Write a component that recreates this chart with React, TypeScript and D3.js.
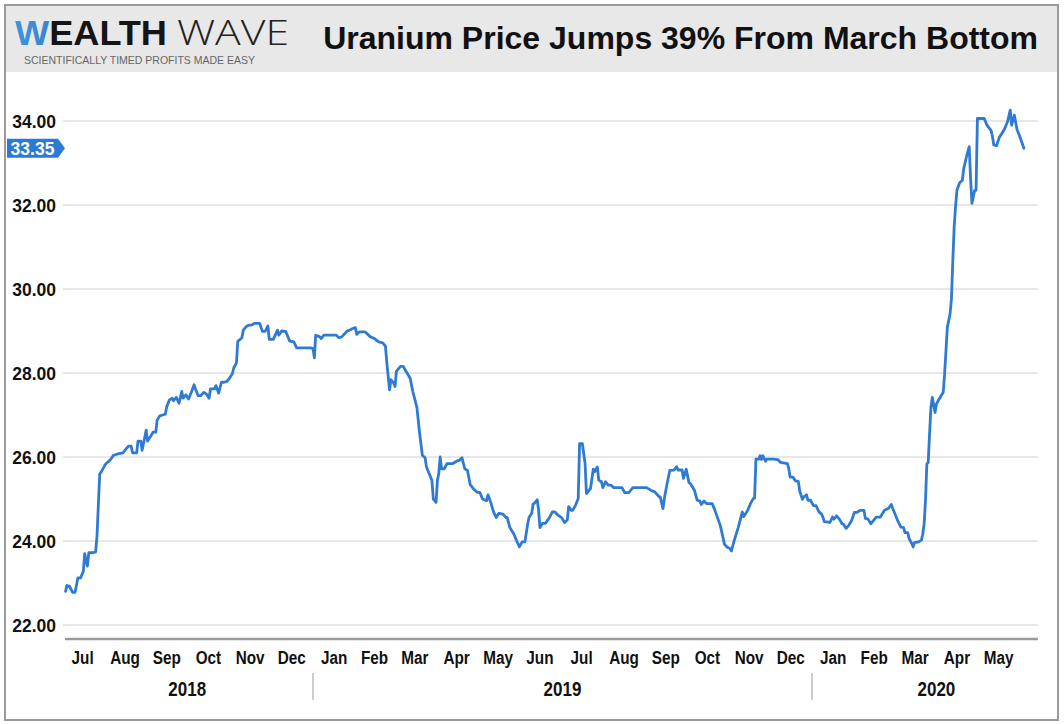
import React from "react";
import * as d3 from "d3";

// ---- data (month-day, price USD/lb) ----
const prices2018: [string, number][] = [
  ["07-04",22.80],["07-05",22.94],["07-07",22.92],["07-09",22.78],["07-11",22.78],["07-13",23.12],["07-15",23.12],["07-17",23.28],["07-18",23.70],["07-20",23.40],["07-21",23.72],["07-24",23.72],["07-26",23.74],["07-27",24.12],["07-29",25.60],["07-30",25.64],
  ["08-01",25.76],["08-02",25.82],["08-04",25.88],["08-06",25.94],["08-08",26.04],["08-10",26.06],["08-12",26.08],["08-15",26.10],["08-17",26.18],["08-19",26.26],["08-21",26.26],["08-22",26.10],["08-25",26.10],["08-26",26.38],["08-28",26.38],["08-29",26.16],
  ["09-01",26.64],["09-02",26.38],["09-04",26.48],["09-06",26.59],["09-08",26.59],["09-09",26.88],["09-11",26.98],["09-13",27.00],["09-15",27.02],["09-16",27.20],["09-18",27.36],["09-20",27.40],["09-21",27.34],["09-23",27.42],["09-25",27.28],["09-27",27.56],["09-28",27.40],["09-30",27.48],
  ["10-02",27.38],["10-04",27.54],["10-06",27.72],["10-07",27.62],["10-09",27.46],["10-11",27.46],["10-13",27.54],["10-15",27.50],["10-17",27.40],["10-18",27.62],["10-21",27.62],["10-22",27.70],["10-24",27.52],["10-26",27.78],["10-28",27.78],["10-30",27.80],
  ["11-01",27.88],["11-03",27.98],["11-04",28.12],["11-06",28.24],["11-07",28.76],["11-08",28.78],["11-10",28.84],["11-11",29.02],["11-13",29.10],["11-15",29.14],["11-17",29.14],["11-19",29.18],["11-23",29.18],["11-25",28.99],["11-27",28.99],["11-29",29.12],["11-30",28.80],
  ["12-03",28.80],["12-06",29.02],["12-07",28.90],["12-09",29.00],["12-12",28.99],["12-15",28.76],["12-18",28.74],["12-20",28.60],["12-30",28.60],
];

const prices2019: [string, number][] = [
  ["01-01",28.58],["01-02",28.36],["01-03",28.90],["01-06",28.86],["01-07",28.82],["01-09",28.90],["01-18",28.90],["01-20",28.84],["01-22",28.86],["01-26",29.00],["01-28",29.02],["01-30",29.06],
  ["02-01",29.08],["02-02",28.92],["02-04",28.98],["02-08",28.98],["02-12",28.86],["02-15",28.82],["02-18",28.74],["02-21",28.72],["02-23",28.64],["02-24",28.24],["02-26",27.60],["02-27",27.84],
  ["03-01",27.76],["03-02",27.68],["03-03",28.04],["03-04",28.08],["03-06",28.16],["03-08",28.16],["03-10",28.04],["03-13",27.88],["03-15",27.56],["03-18",27.18],["03-20",26.56],["03-22",26.04],["03-24",25.98],["03-25",25.76],["03-27",25.60],["03-29",25.44],["03-30",25.00],
  ["04-01",24.92],["04-02",25.44],["04-03",25.60],["04-04",26.00],["04-05",25.72],["04-07",25.72],["04-09",25.84],["04-13",25.84],["04-16",25.90],["04-18",25.92],["04-20",25.98],["04-22",25.72],["04-24",25.68],["04-26",25.34],["04-29",25.22],
  ["05-01",25.16],["05-03",25.16],["05-05",25.00],["05-08",24.96],["05-09",25.10],["05-11",24.92],["05-13",24.70],["05-15",24.56],["05-17",24.66],["05-20",24.64],["05-22",24.56],["05-23",24.56],["05-25",24.32],["05-28",24.16],["05-30",24.00],
  ["06-01",23.86],["06-03",23.98],["06-05",23.98],["06-07",24.40],["06-08",24.56],["06-10",24.66],["06-11",24.88],["06-12",24.90],["06-14",24.98],["06-15",24.74],["06-16",24.32],["06-18",24.42],["06-20",24.42],["06-23",24.56],["06-25",24.69],["06-27",24.69],["06-29",24.62],
  ["07-02",24.55],["07-04",24.44],["07-06",24.50],["07-07",24.82],["07-09",24.73],["07-10",24.73],["07-12",24.85],["07-14",25.01],["07-15",26.32],["07-17",26.32],["07-19",25.85],["07-20",25.13],["07-23",25.25],["07-25",25.71],["07-26",25.65],["07-28",25.76],["07-29",25.45],["07-31",25.41],
  ["08-01",25.27],["08-03",25.41],["08-05",25.33],["08-07",25.33],["08-09",25.27],["08-15",25.27],["08-17",25.15],["08-20",25.15],["08-23",25.27],["08-28",25.27],
  ["09-02",25.27],["09-05",25.21],["09-08",25.17],["09-11",25.06],["09-12",25.05],["09-14",24.77],["09-15",25.01],["09-17",25.37],["09-19",25.68],["09-22",25.69],["09-24",25.77],["09-25",25.69],["09-28",25.69],["09-29",25.49],
  ["10-01",25.71],["10-03",25.39],["10-04",25.37],["10-07",25.21],["10-09",24.97],["10-11",24.95],["10-12",24.87],["10-14",24.95],["10-16",24.89],["10-20",24.89],["10-22",24.73],["10-26",24.36],["10-29",23.92],["10-31",23.85],
  ["11-02",23.82],["11-03",23.76],["11-05",24.00],["11-08",24.32],["11-11",24.69],["11-12",24.58],["11-15",24.73],["11-17",24.89],["11-19",25.01],["11-20",25.02],["11-21",25.95],["11-23",25.95],["11-24",26.03],["11-25",25.94],["11-26",26.03],["11-28",25.90],["11-29",25.95],
  ["12-04",25.95],["12-07",25.94],["12-09",25.87],["12-14",25.84],["12-15",25.73],["12-16",25.52],["12-18",25.52],["12-20",25.43],["12-22",25.42],["12-23",25.19],["12-25",24.99],["12-26",25.05],["12-28",25.10],["12-29",24.97],["12-31",24.97],
];

const prices2020: [string, number][] = [
  ["01-02",24.84],["01-04",24.84],["01-06",24.70],["01-08",24.64],["01-09",24.57],["01-10",24.46],["01-13",24.45],["01-14",24.44],["01-16",24.57],["01-17",24.52],["01-19",24.60],["01-21",24.52],["01-23",24.41],["01-24",24.40],["01-26",24.30],["01-28",24.38],["01-30",24.49],
  ["02-01",24.68],["02-03",24.68],["02-05",24.73],["02-08",24.73],["02-09",24.54],["02-11",24.52],["02-13",24.41],["02-15",24.49],["02-17",24.57],["02-20",24.57],["02-23",24.73],["02-26",24.78],["02-28",24.87],["02-29",24.78],
  ["03-02",24.62],["03-04",24.46],["03-06",24.33],["03-08",24.32],["03-09",24.20],["03-11",24.20],["03-12",24.06],["03-14",23.94],["03-15",23.86],["03-16",23.96],["03-19",23.98],["03-21",24.02],["03-22",24.16],["03-23",24.40],["03-24",24.95],["03-25",25.83],["03-26",25.87],["03-27",26.55],["03-28",27.18],["03-29",27.42],["03-31",27.06],
  ["04-01",27.26],["04-03",27.38],["04-06",27.54],["04-07",27.98],["04-09",29.09],["04-11",29.41],["04-12",29.77],["04-13",30.68],["04-14",31.48],["04-15",31.96],["04-16",32.35],["04-18",32.53],["04-20",32.59],["04-21",32.87],["04-23",33.15],["04-25",33.39],["04-26",32.63],["04-27",32.04],["04-29",32.35],["04-30",32.35],
  ["05-01",34.06],["05-03",34.06],["05-06",34.06],["05-08",33.90],["05-11",33.77],["05-12",33.63],["05-13",33.43],["05-15",33.41],["05-17",33.61],["05-19",33.71],["05-21",33.82],["05-23",33.98],["05-25",34.26],["05-26",33.90],["05-28",34.14],["05-30",33.79],
  ["06-01",33.63],["06-04",33.35],
];

const yTicks = [22, 24, 26, 28, 30, 32, 34];
const yearLabels = ["2018", "2019", "2020"];
const lastPriceLabel = "33.35";
const titleText = "Uranium Price Jumps 39% From March Bottom";
const axisStart = "2018-07-01";
const axisEnd = "2020-07-01";

const W = 1064;
const H = 724;
const BLUE = "#2f7bd2";
const FONT = "'Liberation Sans', Arial, Helvetica, sans-serif";

const parse = d3.utcParse("%Y-%m-%d")!;

export default function App() {
  const series = [
    ...prices2018.map(([d, v]) => ({ date: parse("2018-" + d)!, value: v })),
    ...prices2019.map(([d, v]) => ({ date: parse("2019-" + d)!, value: v })),
    ...prices2020.map(([d, v]) => ({ date: parse("2020-" + d)!, value: v })),
  ];

  const x = d3
    .scaleUtc()
    .domain([new Date(Date.UTC(2019, 0, 1)), new Date(Date.UTC(2020, 0, 1))])
    .range([313, 812]);
  const y = d3.scaleLinear().domain([22, 34]).range([625, 121]);

  const line = d3
    .line<{ date: Date; value: number }>()
    .x((d) => x(d.date))
    .y((d) => y(d.value));

  const start = parse(axisStart)!;
  const end = parse(axisEnd)!;
  const months = d3.utcMonth.range(start, d3.utcMonth.offset(end, -1));
  const fmt = d3.utcFormat("%b");

  const yearStarts = yearLabels.map((yy) => parse(yy + "-01-01")!);
  const separators = yearStarts.slice(1);

  const last = series[series.length - 1];
  const ly = y(last.value);

  return (
    <svg
      width={W}
      height={H}
      style={{ position: "absolute", left: 0, top: 0, background: "#fff" }}
      fontFamily={FONT}
    >
      <defs>
        <linearGradient id="wgrad" x1="0" x2="1" y1="0" y2="0">
          <stop offset="0%" stopColor="#3f93dc" />
          <stop offset="55%" stopColor="#2c6fbf" />
          <stop offset="100%" stopColor="#1c3c78" />
        </linearGradient>
      </defs>
      <rect x={0} y={0} width={W} height={H} fill="#fff" />
      {/* header band */}
      <rect x={6} y={6} width={1051} height={66} fill="#e8e8e8" />
      <rect x={5} y={5} width={1053} height={715} fill="none" stroke="#9a9a9a" strokeWidth={2} />

      {/* logo */}
      <text
        x={15}
        y={45}
        fontSize={35}
        fontWeight={900}
        textLength={152}
        lengthAdjust="spacingAndGlyphs"
      >
        <tspan fill="url(#wgrad)">W</tspan>
        <tspan fill="#151515">EALTH</tspan>
      </text>
      <text
        x={177}
        y={45}
        fontSize={35}
        fontWeight={300}
        fill="#222"
        fontFamily="'Open Sans', Lato, sans-serif"
        textLength={112}
        lengthAdjust="spacingAndGlyphs"
      >
        WAVE
      </text>
      <text x={24} y={64} fontSize={10.5} fill="#666">
        SCIENTIFICALLY TIMED PROFITS MADE EASY
      </text>

      {/* title */}
      <text x={1038} y={49} textAnchor="end" fontSize={32} fontWeight={700} fill="#111">
        {titleText}
      </text>

      {/* grid */}
      {yTicks.map((t) => (
        <line key={t} x1={63} x2={1038} y1={y(t)} y2={y(t)} stroke="#cfcfcf" strokeWidth={1.2} />
      ))}
      {yTicks.map((t) => (
        <text
          key={"l" + t}
          x={56}
          y={y(t) + 6.5}
          textAnchor="end"
          fontSize={17.5}
          fontWeight={700}
          fill="#111"
        >
          {t.toFixed(2)}
        </text>
      ))}

      {/* x axis */}
      <line x1={65} x2={1038} y1={639} y2={639} stroke="#9a9a9a" strokeWidth={2.5} />
      {months.map((m) => {
        const cx = (x(m) + x(d3.utcMonth.offset(m, 1))) / 2;
        return (
          <g key={m.toISOString()} transform={`translate(${cx},664) scale(0.86,1)`}>
            <text textAnchor="middle" fontSize={17.8} fontWeight={700} fill="#111">
              {fmt(m)}
            </text>
          </g>
        );
      })}
      {yearStarts.map((ys, i) => {
        const a = ys < start ? start : ys;
        const nextY = d3.utcYear.offset(ys, 1);
        const b = nextY > end ? end : nextY;
        const cx = (x(a) + x(b)) / 2;
        return (
          <g key={yearLabels[i]} transform={`translate(${cx},696) scale(0.85,1)`}>
            <text textAnchor="middle" fontSize={20} fontWeight={700} fill="#111">
              {yearLabels[i]}
            </text>
          </g>
        );
      })}
      {separators.map((s) => (
        <line
          key={s.toISOString()}
          x1={x(s)}
          x2={x(s)}
          y1={673}
          y2={700}
          stroke="#999"
          strokeWidth={1}
        />
      ))}

      {/* price line */}
      <path
        d={line(series) ?? ""}
        fill="none"
        stroke={BLUE}
        strokeWidth={2.8}
        strokeLinejoin="round"
        strokeLinecap="round"
      />

      {/* last price tag */}
      <path
        d={`M7,${ly - 9.5} L58,${ly - 9.5} L65,${ly} L58,${ly + 9.5} L7,${ly + 9.5} Z`}
        fill="#2b7ad4"
      />
      <text x={32.5} y={ly + 6.3} textAnchor="middle" fontSize={17.5} fontWeight={700} fill="#fff">
        {lastPriceLabel}
      </text>
    </svg>
  );
}
